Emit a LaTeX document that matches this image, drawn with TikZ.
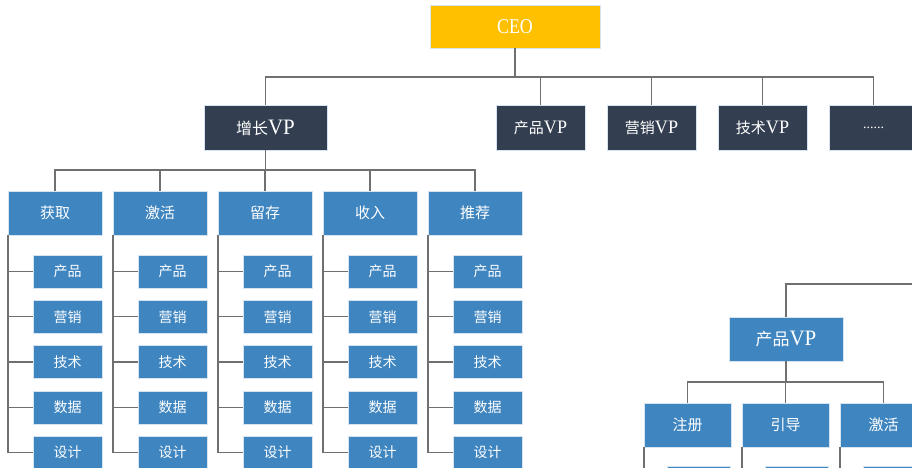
\documentclass[tikz,border=0pt]{standalone}
\usepackage{fontspec}
\usepackage{graphicx}
\newfontfamily\cjk{Noto Sans CJK SC}
\newfontfamily\lat{Liberation Serif}
\definecolor{dk}{HTML}{333F50}
\definecolor{bl}{HTML}{3F85C0}
\definecolor{yl}{HTML}{FFC000}
\definecolor{ln}{HTML}{707070}
\definecolor{bd}{HTML}{D6E4F2}
\newcommand\vpx[1]{{\lat\fontsize{#1}{#1}\selectfont\scalebox{0.95}[1]{VP}}}
\tikzset{
  box/.style={anchor=north west, inner sep=0pt, outer sep=0pt, text=white, draw=bd, line width=0.6pt, align=center},
  conn/.style={draw=ln, line width=1.3pt},
  hdr/.style={box, fill=bl, minimum width=94pt, minimum height=44pt, font=\cjk\fontsize{15}{15}\selectfont},
  sub/.style={box, fill=bl, minimum width=69pt, minimum height=33pt, font=\cjk\fontsize{14}{14}\selectfont},
  vpbox/.style={box, fill=dk, minimum width=89pt, minimum height=45pt, font=\cjk\fontsize{15}{15}\selectfont}
}
\begin{document}
\begin{tikzpicture}[x=1pt,y=-1pt]
\useasboundingbox (0,0) rectangle (912,468);
\clip (0,0) rectangle (912,468);
% CEO level
\node[box, fill=yl, minimum width=170pt, minimum height=43pt] (ceo) at (430,5) {\lat\fontsize{21}{21}\selectfont\scalebox{0.85}[1]{CEO}};
\node[vpbox, minimum width=123pt, font=\cjk\fontsize{16}{16}\selectfont] (g) at (204,105) {增长\vpx{22}};
\node[vpbox] (v2) at (496,105) {产品\vpx{19}};
\node[vpbox] (v3) at (607,105) {营销\vpx{19}};
\node[vpbox] (v4) at (718,105) {技术\vpx{19}};
\node[vpbox, font=\lat\fontsize{14}{14}\selectfont] (v5) at (829,105) {......};
\coordinate (cbar) at (515,77);
\draw[conn] (ceo.south) -- (cbar);
\foreach \v in {g,v2,v3,v4,v5} \draw[conn] (\v.north) |- (cbar);
% growth tree
\coordinate (gbar) at (265.5,170);
\draw[conn] (g.south) -- (gbar);
\foreach \i/\t in {1/获取,2/激活,3/留存,4/收入,5/推荐}{
  \node[hdr] (c\i) at ({8+(\i-1)*105},191) {\t};
  \draw[conn] (c\i.north) |- (gbar);
  \foreach \j/\s in {1/产品,2/营销,3/技术,4/数据,5/设计}{
    \node[sub] (c\i s\j) at ({33+(\i-1)*105},{255+(\j-1)*45.3}) {\s};
    \draw[conn] (c\i.south west) |- (c\i s\j.west);
  }
}
% product VP tree
\coordinate (pfree) at (912,284);
\node[box, fill=bl, minimum width=114pt, minimum height=44pt, font=\cjk\fontsize{17}{17}\selectfont] (p) at (729,317) {产品\vpx{22}};
\draw[conn] (pfree) -| (p.north);
\coordinate (pbar) at (786,382);
\draw[conn] (p.south) -- (pbar);
\foreach \i/\x/\t in {1/644/注册,2/742/引导,3/840/激活}{
  \node[hdr, minimum width=87pt] (r\i) at (\x,403) {\t};
  \draw[conn] (r\i.north) |- (pbar);
  \node[sub, minimum width=63pt] (r\i s1) at (\x+23,466) {};
  \draw[conn] (r\i.south west) |- (r\i s1.west);
}
\end{tikzpicture}
\end{document}
